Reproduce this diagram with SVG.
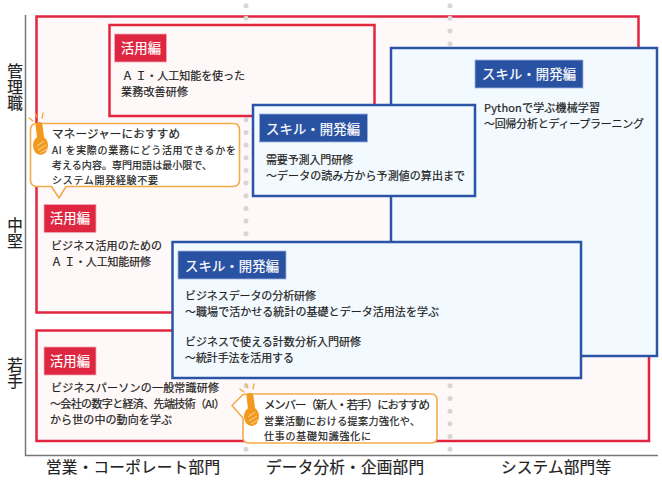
<svg xmlns="http://www.w3.org/2000/svg" width="662" height="480" viewBox="0 0 662 480">
<defs>
<style>
text{font-family:"Noto Sans CJK JP","Noto Sans",sans-serif;fill:#222;stroke:#222;stroke-width:.2;font-size:11px;font-weight:400}
.red{fill:#fff8f8;stroke:#e2263f;stroke-width:2.5}
.blue{fill:#f3faff;stroke:#2b54a6;stroke-width:2.5}
.lr{fill:#de2640;stroke:#f3a9b4;stroke-width:.8}
.lb{fill:#2a52a3;stroke:#9db2da;stroke-width:.8}
text.lt{fill:#fff;stroke:#fff;font-size:13.3px}
text.ax{font-size:15.6px}
text.v{writing-mode:vertical-rl;letter-spacing:.3px}
text.h{font-size:11.5px}
text.s{font-size:10px}
.co{fill:#fff;stroke:#f6ab4a;stroke-width:1.6;stroke-linejoin:round}
.hand{fill:#f29a1f}
.spark{stroke:#f5a93c;stroke-width:1.3;stroke-linecap:round;fill:none}
.dots{fill:none;stroke:#d6d6d6;stroke-width:5;stroke-linecap:round;stroke-dasharray:0 12.67}
</style>
<g id="handIcon">
<path class="spark" d="M-9 -4L-5 -1M-3 -9L-1 -5M5 -9L4 -4"/>
<path d="M1 3.500L2.500 15" stroke="#f29a1f" stroke-width="7" stroke-linecap="round" fill="none"/>
<ellipse class="hand" cx="2.500" cy="23.500" rx="7.500" ry="9.500"/>
<path d="M-1 24L6 19M0 28L8 23M2 31L9 27" stroke="#fbd596" stroke-width="1" fill="none"/>
</g>
</defs>
<rect width="662" height="480" fill="#fff"/>
<g id="axes">
<path d="M25.500 15V455.500H658" fill="none" stroke="#777" stroke-width="1.500"/>
<text class="ax v" x="15" y="63">管理職</text>
<text class="ax v" x="15" y="217">中堅</text>
<text class="ax v" x="15" y="357">若手</text>
<text class="ax" x="46" y="473" textLength="174">営業・コーポレート部門</text>
<text class="ax" x="266" y="473" textLength="158">データ分析・企画部門</text>
<text class="ax" x="501" y="473" textLength="110">システム部門等</text>
</g>
<g id="band-top"><rect class="red" x="36.500" y="16.500" width="602" height="296"/></g>
<g id="band-bottom"><rect class="red" x="36.500" y="330.500" width="612.500" height="110.500"/></g>
<g id="grid-dots">
<path class="dots" d="M246 5.700V452M450 5.700V452"/>
</g>
<g id="node-ai-kaizen">
<rect class="red" x="109.500" y="25" width="265" height="91"/>
<rect class="lr" x="114.500" y="34" width="52" height="28"/>
<text class="lt" x="121" y="53" textLength="40">活用編</text>
<text x="122" y="80" textLength="123">Ａ Ｉ・人工知能を使った</text>
<text x="121" y="96" textLength="67">業務改善研修</text>
</g>
<g id="node-ai-biz">
<rect class="lr" x="44" y="204.500" width="52" height="28"/>
<text class="lt" x="50" y="223" textLength="40">活用編</text>
<text x="51" y="250" textLength="111">ビジネス活用のための</text>
<text x="51" y="266" textLength="100">Ａ Ｉ・人工知能研修</text>
</g>
<g id="node-joshiki">
<rect class="lr" x="44" y="347" width="52" height="28"/>
<text class="lt" x="50" y="366" textLength="40">活用編</text>
<text x="51" y="392" textLength="168">ビジネスパーソンの一般常識研修</text>
<text x="50" y="408" textLength="175">～会社の数字と経済、先端技術（AI）</text>
<text x="50" y="424" textLength="122">から世の中の動向を学ぶ</text>
</g>
<g id="node-python">
<rect class="blue" x="391" y="48" width="266" height="308"/>
<rect class="lb" x="475" y="60" width="108" height="28"/>
<text class="lt" x="482" y="79" textLength="94">スキル・開発編</text>
<text x="484" y="112" textLength="116">Pythonで学ぶ機械学習</text>
<text x="484" y="128" textLength="160">～回帰分析とディープラーニング</text>
</g>
<g id="node-juyo">
<rect class="blue" x="253" y="105" width="222" height="91"/>
<rect class="lb" x="259.500" y="114" width="108" height="28"/>
<text class="lt" x="266" y="134" textLength="94">スキル・開発編</text>
<text x="266" y="164" textLength="87">需要予測入門研修</text>
<text x="266" y="180" textLength="199">～データの読み方から予測値の算出まで</text>
</g>
<g id="node-bizdata">
<rect class="blue" x="172.500" y="242" width="408.500" height="136"/>
<rect class="lb" x="178" y="251" width="108" height="28"/>
<text class="lt" x="185" y="271" textLength="94">スキル・開発編</text>
<text x="185" y="300" textLength="131">ビジネスデータの分析研修</text>
<text x="185" y="316" textLength="254">～職場で活かせる統計の基礎とデータ活用法を学ぶ</text>
<text x="185" y="346" textLength="176">ビジネスで使える計数分析入門研修</text>
<text x="185" y="362" textLength="109">～統計手法を活用する</text>
</g>
<g id="callout-manager">
<path class="co" d="M37 123.500H233Q239.500 123.500 239.500 130V180Q239.500 186.500 233 186.500H66L59 198L51.500 186.500H37Q30.500 186.500 30.500 180V130Q30.500 123.500 37 123.500Z"/>
<use href="#handIcon" transform="translate(38,122)"/>
<text class="h" x="52" y="138" textLength="128">マネージャーにおすすめ</text>
<text class="s" x="52" y="154" textLength="184">AI を実際の業務にどう活用できるかを</text>
<text class="s" x="52" y="169" textLength="160">考える内容。専門用語は最小限で、</text>
<text class="s" x="52" y="184" textLength="106">システム開発経験不要</text>
</g>
<g id="callout-member">
<path class="co" d="M250 394H431Q437 394 437 400V437Q437 443 431 443H249Q243 443 243 437V418L232 405.500L243 394.500Q245 394 250 394Z"/>
<use href="#handIcon" transform="translate(249,393)"/>
<text class="h" x="264" y="409" textLength="166">メンバー（新人・若手）におすすめ</text>
<text class="s" x="264" y="424.500" textLength="156">営業活動における提案力強化や、</text>
<text class="s" x="264" y="439.500" textLength="107">仕事の基礎知識強化に</text>
</g>
</svg>
